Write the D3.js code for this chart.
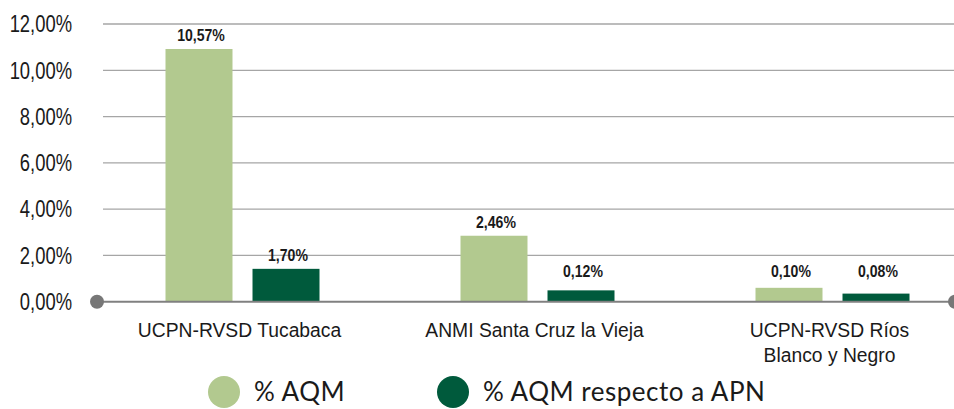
<!DOCTYPE html>
<html>
<head>
<meta charset="utf-8">
<script src="https://cdn.jsdelivr.net/npm/d3@7"></script>
<style>
  body { margin: 0; background: #fff; }
  svg { display: block; }
</style>
</head>
<body>
<div id="chart"></div>
<script>
const categories = ["UCPN-RVSD Tucabaca", "ANMI Santa Cruz la Vieja", "UCPN-RVSD Ríos\nBlanco y Negro"];
const series = ["% AQM", "% AQM respecto a APN"];
// bar heights as drawn in the picture (the printed labels don't match them exactly)
const aqm = [10.92, 2.85, 0.60];
const aqmApn = [1.42, 0.49, 0.35];
const aqmLabels = ["10,57%", "2,46%", "0,10%"];
const aqmApnLabels = ["1,70%", "0,12%", "0,08%"];
const yTicks = [0, 2, 4, 6, 8, 10, 12];
const colors = ["#b2c98f", "#005a3c"];

const width = 954, height = 409;
// no narrow font installed, so squeeze Liberation Sans horizontally
const sans = "'Liberation Sans', Arial, sans-serif";

const svg = d3.select("#chart").append("svg")
  .attr("width", width)
  .attr("height", height);

const y = d3.scaleLinear().domain([0, 12]).range([301.7, 24]);
const x0 = d3.scaleBand().domain(categories).range([95, 980]);
const x1 = d3.scaleBand().domain([0, 1]).range([70.5, 224.5]).paddingInner(0.23);

// gridlines
svg.append("g")
  .selectAll("line")
  .data(yTicks.filter(d => d > 0))
  .join("line")
    .attr("x1", 103)
    .attr("x2", width)
    .attr("y1", d => y(d))
    .attr("y2", d => y(d))
    .attr("stroke", "#a6a6a6")
    .attr("stroke-width", 1.3);

// y labels
svg.append("g")
  .selectAll("text")
  .data(yTicks)
  .join("text")
    .attr("transform", d => `translate(72,${y(d)}) scale(0.8,1)`)
    .attr("dy", "0.36em")
    .attr("text-anchor", "end")
    .style("font-family", sans)
    .style("font-size", "23px")
    .style("fill", "#1a1a1a")
    .text(d => d.toFixed(2).replace(".", ",") + "%");

// bars
const rows = categories.map((c, i) => ({
  cat: c,
  vals: [
    { s: 0, v: aqm[i], label: aqmLabels[i] },
    { s: 1, v: aqmApn[i], label: aqmApnLabels[i] }
  ]
}));

const grp = svg.append("g")
  .selectAll("g")
  .data(rows)
  .join("g")
    .attr("transform", d => `translate(${x0(d.cat)},0)`);

grp.selectAll("rect")
  .data(d => d.vals)
  .join("rect")
    .attr("x", d => x1(d.s))
    .attr("width", x1.bandwidth())
    .attr("y", d => y(d.v))
    .attr("height", d => y(0) - y(d.v))
    .attr("fill", d => colors[d.s]);

grp.selectAll("text")
  .data(d => d.vals)
  .join("text")
    .attr("transform", d => `translate(${x1(d.s) + x1.bandwidth() / 2 + 2},${Math.min(y(d.v) - 8, y(1.05))}) scale(0.88,1)`)
    .attr("text-anchor", "middle")
    .style("font-family", sans)
    .style("font-weight", "bold")
    .style("font-size", "16px")
    .style("fill", "#1a1a1a")
    .text(d => d.label);

// baseline with end dots
svg.append("line")
  .attr("x1", 97).attr("x2", width)
  .attr("y1", y(0)).attr("y2", y(0))
  .attr("stroke", "#808080")
  .attr("stroke-width", 2);
svg.selectAll("circle.end")
  .data([97, 955])
  .join("circle")
    .attr("class", "end")
    .attr("cx", d => d)
    .attr("cy", y(0))
    .attr("r", 7)
    .attr("fill", "#777");

// category labels
const cl = svg.append("g")
  .selectAll("text")
  .data(categories)
  .join("text")
    .attr("transform", d => `translate(${x0(d) + x0.bandwidth() / 2 - 3},337) scale(0.92,1)`)
    .attr("text-anchor", "middle")
    .style("font-family", sans)
    .style("font-size", "21px")
    .style("fill", "#1a1a1a");
cl.selectAll("tspan")
  .data(d => d.split("\n"))
  .join("tspan")
    .attr("x", 0)
    .attr("dy", (d, i) => i ? 25 : 0)
    .text(d => d);

// legend
const legX = [224, 453];
const leg = svg.append("g")
  .selectAll("g")
  .data(series)
  .join("g")
    .attr("transform", (d, i) => `translate(${legX[i]},392)`);
leg.append("circle")
  .attr("r", 16)
  .attr("fill", (d, i) => colors[i]);
leg.append("text")
  .attr("x", 30)
  .attr("dy", "0.35em")
  .style("font-family", "Lato, sans-serif")
  .style("font-size", "26px")
  .style("letter-spacing", "0.5px")
  .style("fill", "#1a1a1a")
  .text(d => d);
</script>
</body>
</html>
